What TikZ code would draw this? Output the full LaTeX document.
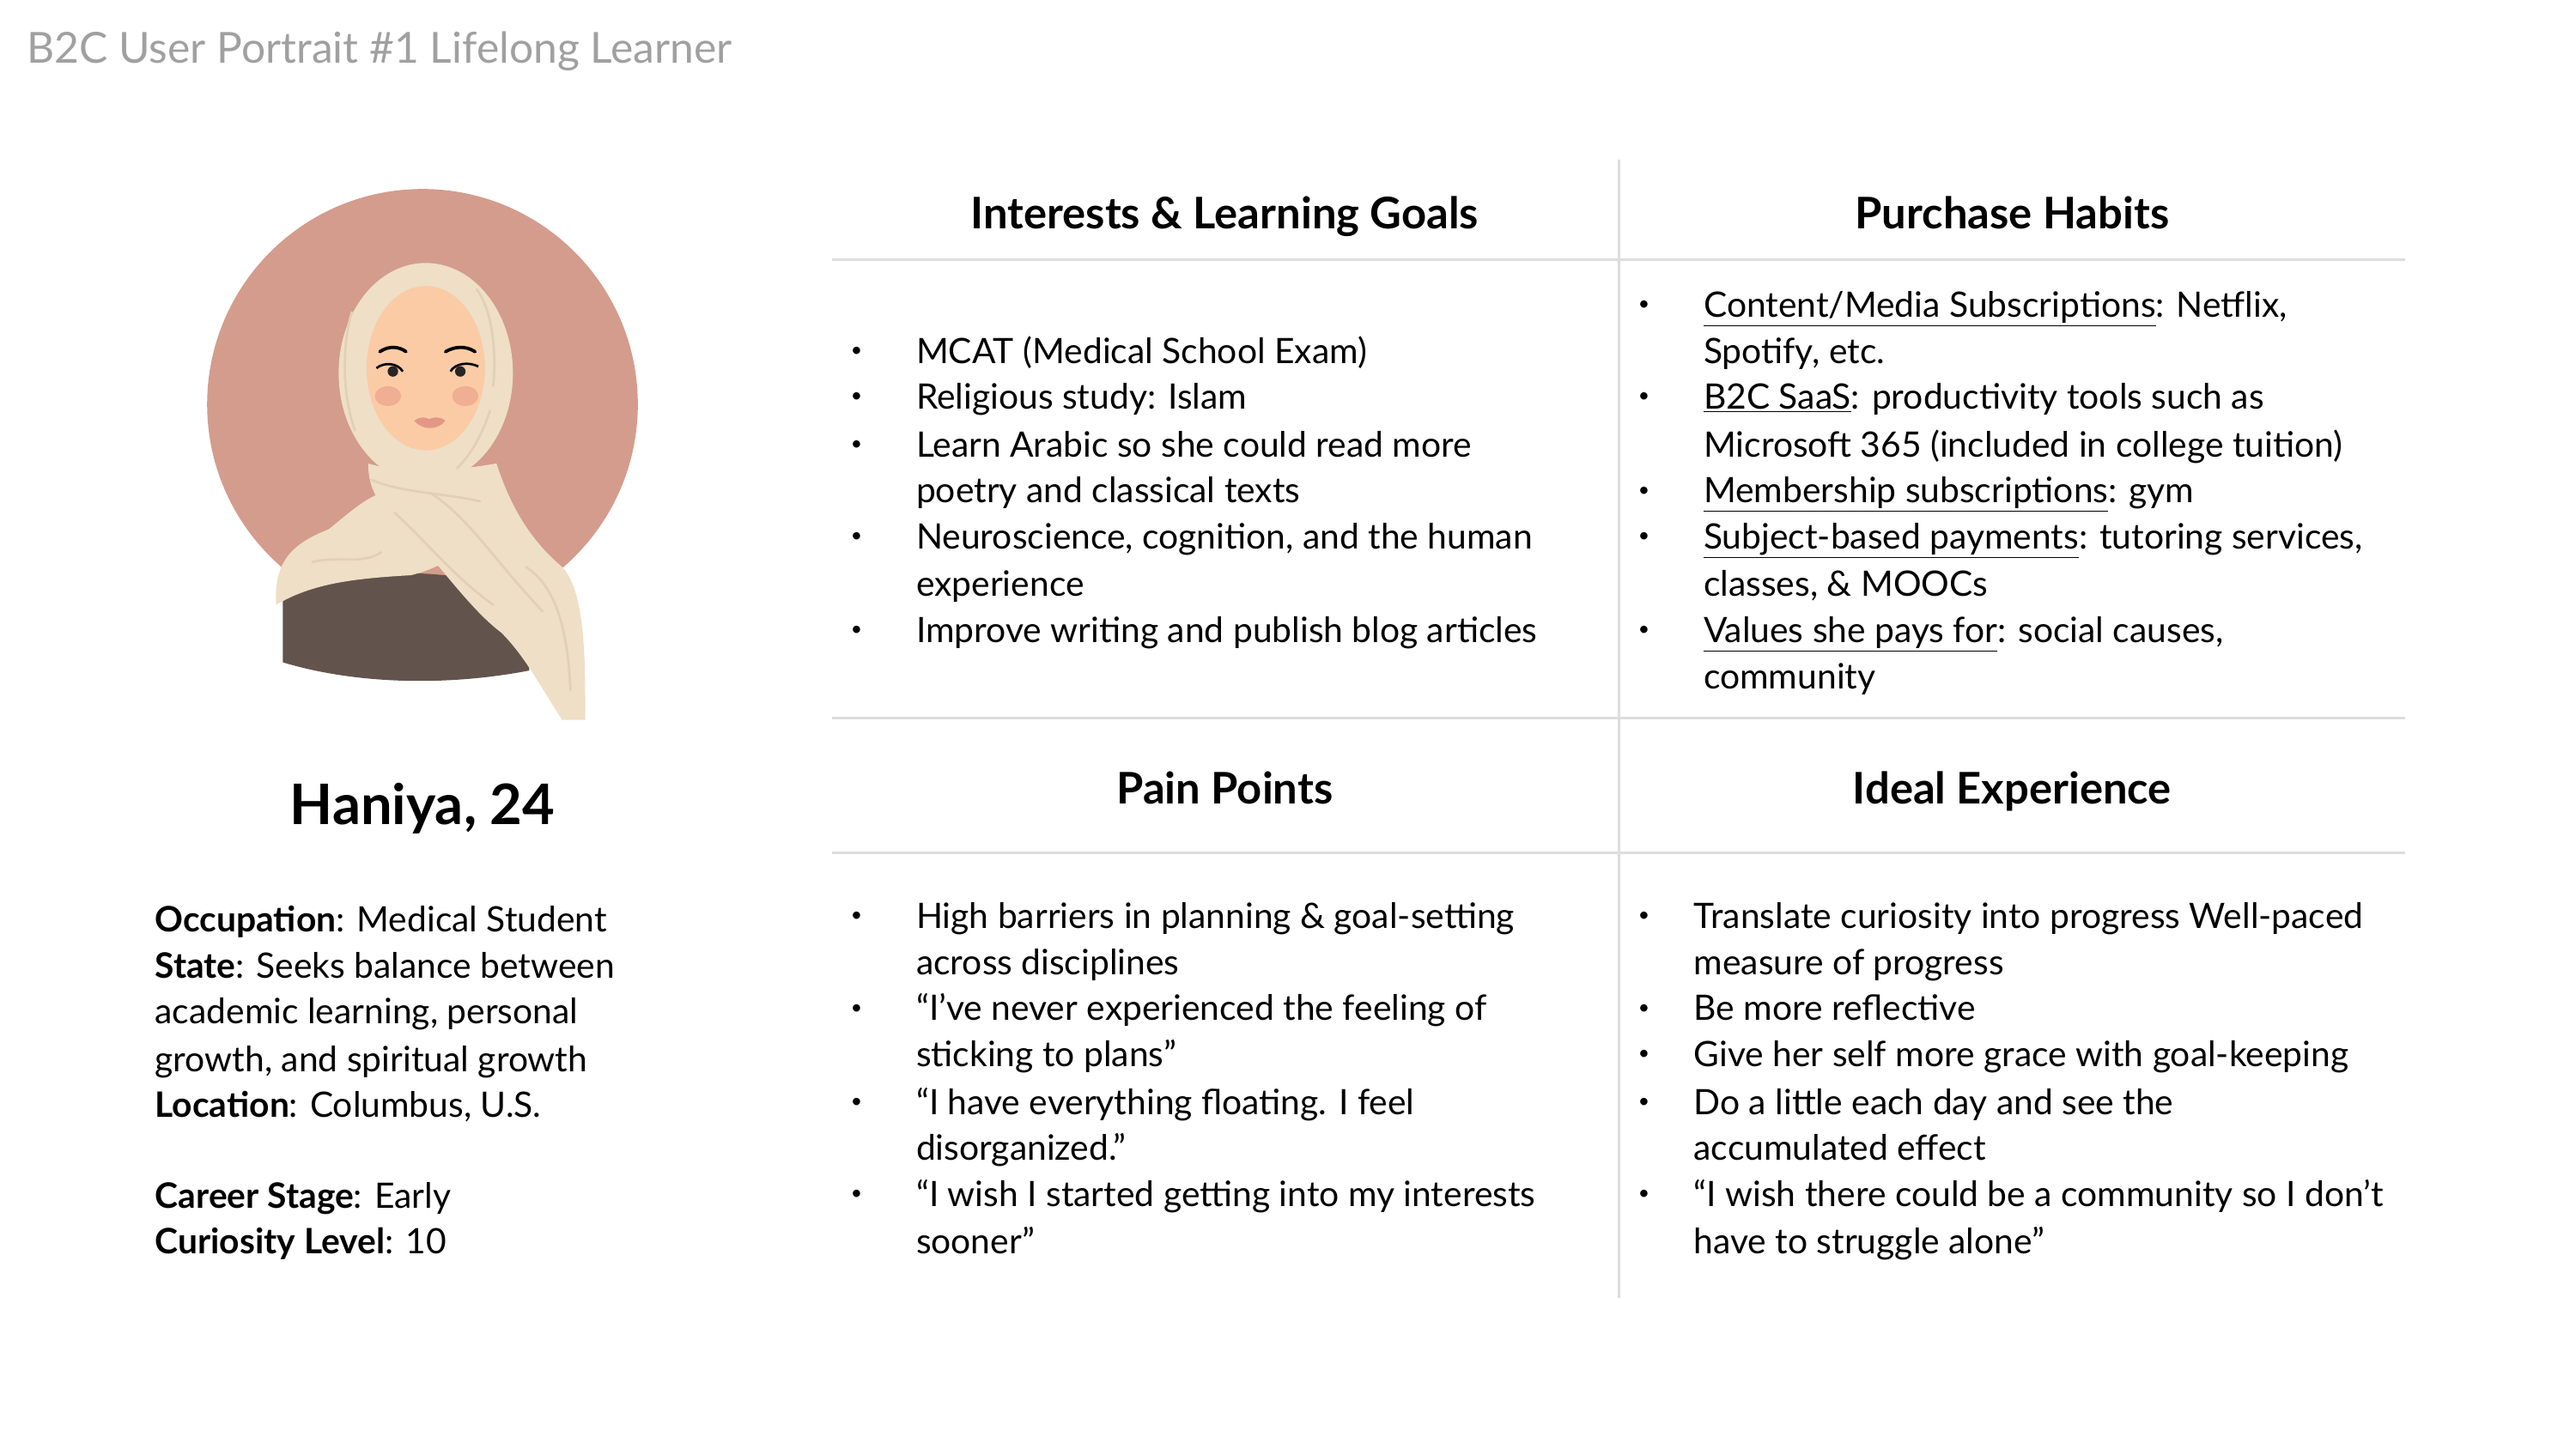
\documentclass[tikz,border=0pt]{standalone}
\usepackage{fontspec}
\setmainfont{Lato}
\tikzset{every picture/.style={line width=0.75pt}}
\tikzset{
  body/.style={anchor=base west,inner sep=0pt,yshift=-7pt,font=\fontsize{21.3}{25}\selectfont},
  dot/.style={inner sep=0pt,font=\fontsize{12}{14}\selectfont},
  head/.style={anchor=base,inner sep=0pt,yshift=-9pt,font=\fontsize{26.5}{30}\selectfont\bfseries},
  rule/.style={draw={rgb,255:red,221;green,221;blue,221},line width=1.5pt},
  fold/.style={draw={rgb,255:red,226;green,208;blue,182},line width=1.4pt,line cap=round}
}
\definecolor{bgpink}{RGB}{212,156,140}
\definecolor{shawl}{RGB}{238,223,198}
\definecolor{skin}{RGB}{251,203,166}
\definecolor{cheek}{RGB}{240,174,146}
\definecolor{dress}{RGB}{98,84,76}
\definecolor{lip}{RGB}{226,152,132}
\begin{document}
\begin{tikzpicture}[x=1pt,y=1pt,yscale=-1,xscale=1]
	\useasboundingbox (0,0) rectangle (1567,881.6);

	%Portrait
	\fill[bgpink] (257,246) circle [radius=131];
	\fill[dress] (172,358) .. controls (220,345) and (280,345) .. (322,362) -- (322,408) .. controls (270,418) and (215,416) .. (172,403) -- cycle ;
	\fill[shawl] (168,368) .. controls (166,340) and (180,330) .. (200,322) .. controls (215,310) and (225,300) .. (240,298) -- (292,318) .. controls (285,335) and (270,345) .. (250,350) .. controls (215,352) and (190,355) .. (168,368) -- cycle ;
	\fill[shawl] (259,227) ellipse [x radius=53, y radius=67];
	\fill[skin] (259,224) ellipse [x radius=36, y radius=50];
	\fill[cheek] (236,241) ellipse [x radius=8, y radius=6];
	\fill[cheek] (283,241) ellipse [x radius=8, y radius=6];
	\fill[black!85] (239,226) circle [radius=3.2];
	\fill[black!85] (280,226) circle [radius=3.2];
	\draw[line width=2pt,line cap=round] (231,214) .. controls (237,210) and (243,211) .. (247,214);
	\draw[line width=2pt,line cap=round] (271,214) .. controls (276,211) and (283,210) .. (289,214);
	\draw[line width=1.4pt] (229,224) .. controls (234,220) and (242,221) .. (245,226);
	\draw[line width=1.4pt] (274,226) .. controls (277,221) and (285,220) .. (291,223);
	\fill[lip] (252,256) .. controls (256,253) and (259,254) .. (261,255) .. controls (263,254) and (267,253) .. (271,256) .. controls (266,262) and (257,262) .. (252,256) -- cycle ;
	\fill[shawl] (224,282) .. controls (250,290) and (285,285) .. (302,282) .. controls (308,300) and (318,325) .. (342,345) .. controls (356,360) and (356,400) .. (356,438) -- (342,438) .. controls (330,420) and (320,400) .. (305,385) .. controls (285,370) and (265,340) .. (245,320) .. controls (232,308) and (224,300) .. (224,282) -- cycle ;
	\draw[fold] (226,292) .. controls (245,300) and (270,300) .. (292,305);
	\draw[fold] (240,312) .. controls (260,330) and (275,350) .. (300,368);
	\draw[fold] (262,300) .. controls (285,315) and (300,340) .. (330,372);
	\draw[fold] (320,345) .. controls (335,355) and (345,375) .. (347,420);
	\draw[fold] (190,342) .. controls (205,338) and (220,344) .. (232,336);
	\draw[fold] (214,190) .. controls (208,210) and (208,240) .. (216,262);
	\draw[fold] (290,176) .. controls (300,190) and (302,215) .. (300,235);
	\draw[fold] (298,250) .. controls (292,268) and (285,278) .. (278,285);

	%Title
	\node[anchor=west,inner sep=0pt,text={rgb,255:red,160;green,160;blue,160},font=\fontsize{26}{30}\selectfont] (title) at (16,31) {B2C User Portrait \#1 Lifelong Learner};

	%Profile
	\node[inner sep=0pt,font=\fontsize{34}{40}\selectfont\bfseries] (name) at (257,492) {Haniya, 24};
	\node[body] (occ) at (94,560) {\textbf{Occupation}: Medical Student};
	\node[body] (st1) at (94,588) {\textbf{State}: Seeks balance between};
	\node[body] (st2) at (94,616) {academic learning, personal};
	\node[body] (st3) at (94,645) {growth, and spiritual growth};
	\node[body] (loc) at (94,673) {\textbf{Location}: Columbus, U.S.};
	\node[body] (car) at (94,728) {\textbf{Career Stage}: Early};
	\node[body] (cur) at (94,756) {\textbf{Curiosity Level}: 10};

	%Grid
	\draw[rule] (985,97) -- (985,790);
	\draw[rule] (506,158) -- (1463,158);
	\draw[rule] (506,437) -- (1463,437);
	\draw[rule] (506,519) -- (1463,519);

	%Headers
	\node[head] (interests) at (745,130) {Interests \& Learning Goals};
	\node[head] (purchase) at (1224,130) {Purchase Habits};
	\node[head] (pain) at (745,480) {Pain Points};
	\node[head] (ideal) at (1224,480) {Ideal Experience};

	%Interests
	\foreach \y in {214,242,271,327,384} \node[dot] at (521,\y) {\textbullet};
	\node[body] (i1) at (557,214) {MCAT (Medical School Exam)};
	\node[body] (i2) at (557,242) {Religious study: Islam};
	\node[body] (i3) at (557,271) {Learn Arabic so she could read more};
	\node[body] (i4) at (557,299) {poetry and classical texts};
	\node[body] (i5) at (557,327) {Neuroscience, cognition, and the human};
	\node[body] (i6) at (557,356) {experience};
	\node[body] (i7) at (557,384) {Improve writing and publish blog articles};

	%Purchase
	\foreach \y in {186,242,299,327,384} \node[dot] at (1000,\y) {\textbullet};
	\node[body] (p1) at (1036,186) {\underline{Content/Media Subscriptions}: Netflix,};
	\node[body] (p2) at (1036,214) {Spotify, etc.};
	\node[body] (p3) at (1036,242) {\underline{B2C SaaS}: productivity tools such as};
	\node[body] (p4) at (1036,271) {Microsoft 365 (included in college tuition)};
	\node[body] (p5) at (1036,299) {\underline{Membership subscriptions}: gym};
	\node[body] (p6) at (1036,327) {\underline{Subject-based payments}: tutoring services,};
	\node[body] (p7) at (1036,356) {classes, \& MOOCs};
	\node[body] (p8) at (1036,384) {\underline{Values she pays for}: social causes,};
	\node[body] (p9) at (1036,412) {community};

	%Pain points
	\foreach \y in {558,614,671,727} \node[dot] at (521,\y) {\textbullet};
	\node[body] (a1) at (557,558) {High barriers in planning \& goal-setting};
	\node[body] (a2) at (557,586) {across disciplines};
	\node[body] (a3) at (557,614) {“I’ve never experienced the feeling of};
	\node[body] (a4) at (557,642) {sticking to plans”};
	\node[body] (a5) at (557,671) {“I have everything floating. I feel};
	\node[body] (a6) at (557,699) {disorganized.”};
	\node[body] (a7) at (557,727) {“I wish I started getting into my interests};
	\node[body] (a8) at (557,756) {sooner”};

	%Ideal experience
	\foreach \y in {558,614,642,671,727} \node[dot] at (1000,\y) {\textbullet};
	\node[body] (e1) at (1030,558) {Translate curiosity into progress Well-paced};
	\node[body] (e2) at (1030,586) {measure of progress};
	\node[body] (e3) at (1030,614) {Be more reflective};
	\node[body] (e4) at (1030,642) {Give her self more grace with goal-keeping};
	\node[body] (e5) at (1030,671) {Do a little each day and see the};
	\node[body] (e6) at (1030,699) {accumulated effect};
	\node[body] (e7) at (1030,727) {“I wish there could be a community so I don’t};
	\node[body] (e8) at (1030,756) {have to struggle alone”};
\end{tikzpicture}
\end{document}
